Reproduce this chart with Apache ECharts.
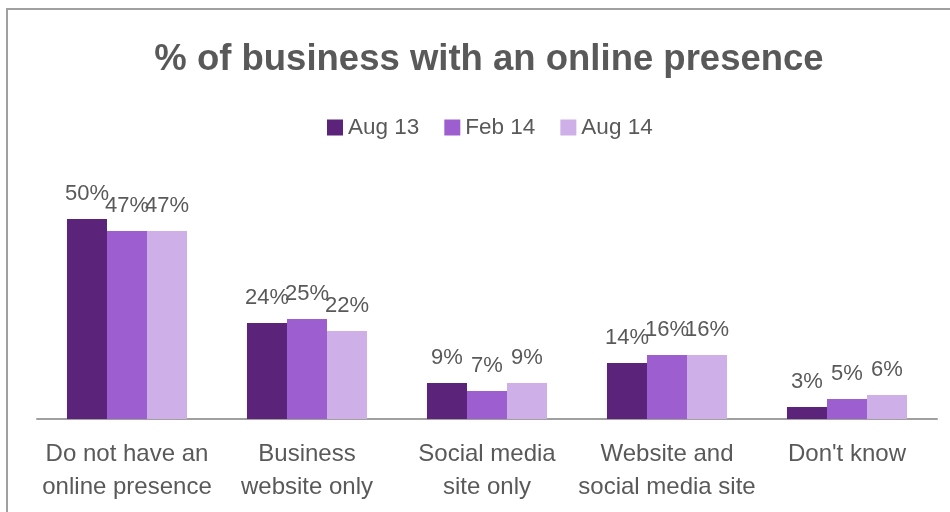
<!DOCTYPE html>
<html>
<head>
<meta charset="utf-8">
<title>% of business with an online presence</title>
<script src="https://cdn.jsdelivr.net/npm/echarts@6/dist/echarts.min.js"></script>
<style>
  html, body { margin: 0; padding: 0; background: #ffffff; }
  #chart { width: 950px; height: 512px; }
</style>
</head>
<body>
<div id="chart"></div>
<script>
// Survey categories and the share of businesses in each, per survey wave
const categories = [
  'Do not have an\nonline presence',
  'Business\nwebsite only',
  'Social media\nsite only',
  'Website and\nsocial media site',
  "Don't know"
];
const seriesNames = ['Aug 13', 'Feb 14', 'Aug 14'];
const aug13 = [50, 24, 9, 14, 3];
const feb14 = [47, 25, 7, 16, 5];
const aug14 = [47, 22, 9, 16, 6];

const colors = ['#5B2379', '#9D5FCF', '#CEAFE7'];
const textColor = '#595959';
const fontFamily = '"Liberation Sans", Arial, sans-serif';

const chart = echarts.init(document.getElementById('chart'), null, { renderer: 'canvas' });

function barSeries(name, data, color) {
  return {
    name: name,
    type: 'bar',
    data: data,
    barGap: '0%',
    barCategoryGap: '33.3%',
    itemStyle: { color: color },
    label: {
      show: true,
      position: 'top',
      distance: 14,
      formatter: '{c}%',
      color: textColor,
      fontSize: 22,
      fontFamily: fontFamily
    },
    emphasis: { disabled: true }
  };
}

chart.setOption({
  animation: false,
  backgroundColor: '#ffffff',
  title: {
    text: '% of business with an online presence',
    left: 484,
    top: 36,
    textAlign: 'center',
    textStyle: {
      color: textColor,
      fontSize: 36.5,
      fontWeight: 'bold',
      fontFamily: fontFamily
    }
  },
  legend: {
    data: seriesNames,
    left: 327,
    top: 116,
    padding: 0,
    itemWidth: 16,
    itemHeight: 16,
    itemGap: 25,
    icon: 'rect',
    textStyle: { color: textColor, fontSize: 22.5, fontFamily: fontFamily }
  },
  grid: { left: 37, right: 13, top: 179, bottom: 93, containLabel: false },
  xAxis: {
    type: 'category',
    data: categories,
    axisLine: { show: true, lineStyle: { color: '#A0A0A0', width: 2 } },
    axisTick: { show: false },
    axisLabel: {
      color: textColor,
      fontSize: 24,
      lineHeight: 33,
      margin: 19,
      interval: 0,
      fontFamily: fontFamily
    }
  },
  yAxis: {
    type: 'value',
    min: 0,
    max: 60,
    show: false,
    splitLine: { show: false }
  },
  series: [
    barSeries(seriesNames[0], aug13, colors[0]),
    barSeries(seriesNames[1], feb14, colors[1]),
    barSeries(seriesNames[2], aug14, colors[2])
  ],
  graphic: [
    { type: 'line', shape: { x1: 7, y1: 9, x2: 7, y2: 512 }, style: { stroke: '#A0A0A0', lineWidth: 2 } },
    { type: 'line', shape: { x1: 6, y1: 9, x2: 950, y2: 9 }, style: { stroke: '#A0A0A0', lineWidth: 2 } }
  ]
});
</script>
</body>
</html>
